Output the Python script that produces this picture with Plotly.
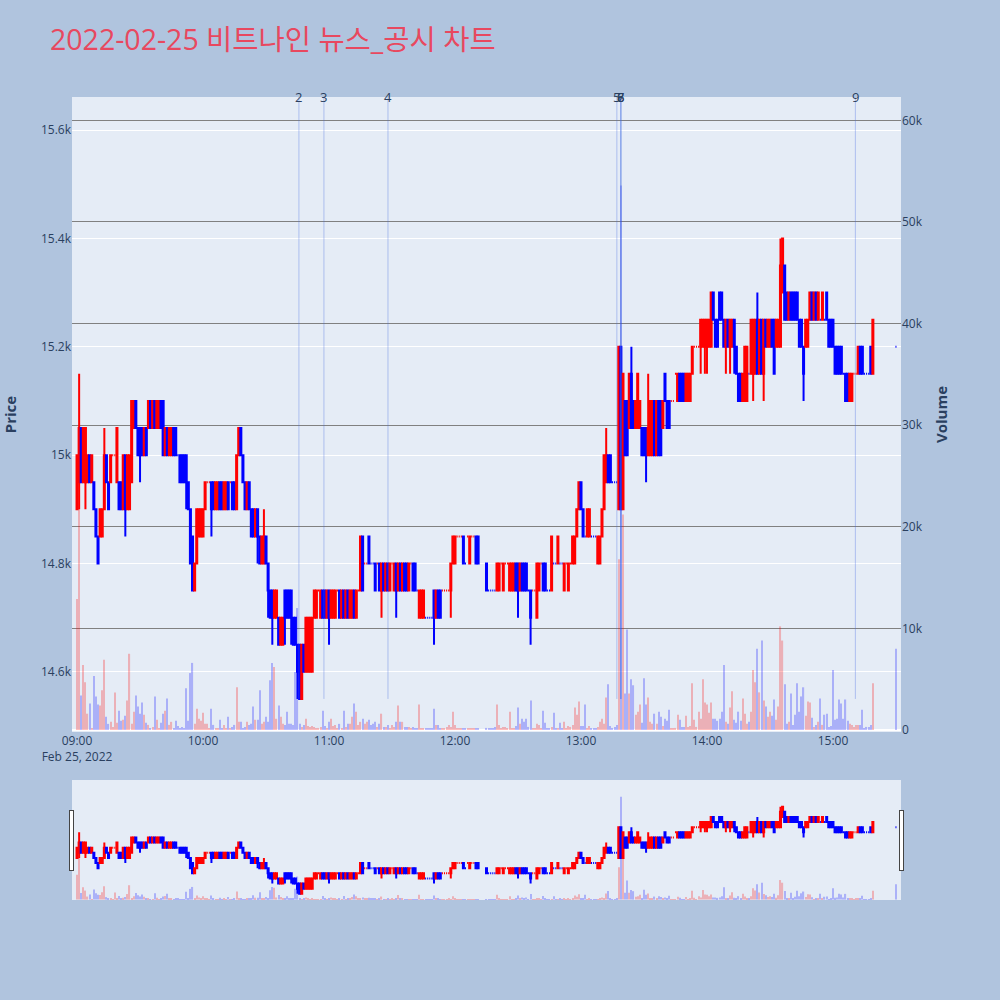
import pandas as pd
import plotly.graph_objects as go
from plotly.subplots import make_subplots

# 1-minute bars for 2022-02-25, 09:00 .. 15:30 (None = no trade in that minute)
opens = [
    14900, 14950, 15050, 14950, 14950, 14950, 15000, 14950, 14950, 14900,
    14850, 14850, 14850, 14900, 15000, 14950, 14950, 15000, 15000, 14950,
    14950, 14950, 14900, 15000, 14900, 14900, 14950, 15050, 15100, 15050,
    15050, 15050, 15000, 15050, 15050, 15100, 15050, 15100, 15050, 15050,
    15100, 15100, 15000, 15050, 15000, 15000, 15050, 15050, 15000, 15000,
    15000, 15000, 15000, 14950, 14900, 14850, 14750, 14800, 14850, 14850,
    14850, 14900, 14950, 14950, 14950, 14950, 14900, 14900, 14950, 14950,
    14900, 14900, 14950, 14950, 14950, 14950, 14900, 15000, 15050, 15000,
    14950, 14900, 14950, 14900, 14900, 14850, 14900, 14850, 14800, 14800,
    14850, 14800, 14750, 14750, 14700, 14700, 14700, 14650, 14650, 14750,
    14750, 14750, 14750, 14700, 14700, 14650, 14650, 14550, 14650, 14600,
    14600, 14600, 14600, 14700, 14700, 14750, 14700, 14750, 14750, 14700,
    14750, 14700, 14700, 14700, 14750, 14750, 14700, 14750, 14700, 14750,
    14700, 14700, 14750, 14700, 14750, 14750, 14850, 14800, 14800, 14850,
    14800, 14800, 14800, 14800, 14800, 14750, 14800, 14750, 14800, 14750,
    14800, 14750, 14800, 14750, 14800, 14750, 14800, 14800, 14750, 14800,
    14800, 14800, 14750, 14700, 14700, 14700, 14700, 14700, 14700, 14700,
    14750, 14700, 14750, 14750, 14750, 14750, 14750, 14750, 14750, 14800,
    14800, 14850, 14850, 14850, 14850, 14800, 14850, 14800, 14850, 14850,
    14850, 14850, None, None, None, 14800, 14750, 14750, 14750, 14750,
    14750, 14750, 14800, 14750, 14800, 14800, 14750, 14750, 14750, 14800,
    14800, 14750, 14800, 14800, 14800, 14750, 14750, 14750, 14750, 14700,
    14750, 14800, 14800, 14800, 14750, 14750, 14750, 14800, 14800, 14800,
    14800, 14800, 14750, 14800, 14750, 14800, 14800, 14800, 14850, 14900,
    14950, 14900, 14850, 14850, 14850, 14850, 14850, 14850, 14800, 14800,
    14850, 14900, 14950, 15000, 15000, 14950, 14950, 14950, 14900, 15200,
    14900, 15100, 15100, 15050, 15150, 15100, 15050, 15050, 15050, 15050,
    15050, 15050, 15000, 15000, 15000, 15100, 15000, 15100, 15100, 15050,
    15150, 15100, 15100, 15100, 15100, 15150, 15100, 15150, 15150, 15150,
    15100, 15100, 15100, 15150, 15200, 15200, 15200, 15200, 15200, 15200,
    15200, 15200, 15200, 15300, 15250, 15250, 15300, 15300, 15250, 15200,
    15250, 15200, 15200, 15250, 15200, 15150, 15150, 15100, 15100, 15100,
    15150, 15150, 15150, 15150, 15250, 15150, 15250, 15150, 15250, 15200,
    15200, 15250, 15250, 15200, 15200, 15200, 15300, 15350, 15300, 15250,
    15300, 15300, 15300, 15300, 15250, 15250, 15200, 15200, 15200, 15250,
    15300, 15250, 15300, 15250, 15250, 15250, 15250, 15300, 15250, 15250,
    15250, 15200, 15200, 15200, 15200, 15150, 15150, 15150, 15100, 15100,
    15150, 15150, 15150, 15200, 15200, 15150, 15150, 15150, 15200, 15150,
    None, None, None, None, None, None, None, None, None, None,
    15200,
]
highs = [
    15000, 15150, 15050, 15050, 15050, 15000, 15000, 15000, 14950, 14900,
    14850, 14900, 14900, 15050, 15000, 14950, 15000, 15000, 15000, 15050,
    14950, 14950, 15000, 15000, 15000, 15000, 15100, 15100, 15100, 15050,
    15050, 15050, 15050, 15050, 15100, 15100, 15100, 15100, 15100, 15100,
    15100, 15100, 15050, 15050, 15050, 15050, 15050, 15050, 15000, 15000,
    15000, 15000, 15000, 14950, 14900, 14850, 14800, 14900, 14900, 14900,
    14900, 14950, 14950, 14950, 14950, 14950, 14950, 14950, 14950, 14950,
    14950, 14950, 14950, 14950, 14950, 14950, 15000, 15050, 15050, 15000,
    14950, 14950, 14950, 14900, 14900, 14900, 14900, 14850, 14850, 14900,
    14850, 14800, 14750, 14750, 14750, 14750, 14700, 14700, 14700, 14750,
    14750, 14750, 14750, 14700, 14700, 14650, 14650, 14650, 14650, 14700,
    14700, 14700, 14700, 14750, 14750, 14750, 14750, 14750, 14750, 14750,
    14750, 14750, 14750, 14750, 14750, 14750, 14750, 14750, 14750, 14750,
    14750, 14750, 14750, 14750, 14750, 14850, 14850, 14800, 14800, 14850,
    14800, 14800, 14800, 14800, 14800, 14800, 14800, 14800, 14800, 14800,
    14800, 14800, 14800, 14800, 14800, 14800, 14800, 14800, 14800, 14800,
    14800, 14800, 14750, 14750, 14750, 14750, 14700, 14700, 14700, 14700,
    14750, 14750, 14750, 14750, 14750, 14750, 14750, 14750, 14800, 14850,
    14850, 14850, 14850, 14850, 14850, 14800, 14850, 14850, 14850, 14850,
    14850, 14850, None, None, None, 14800, 14750, 14750, 14750, 14750,
    14800, 14800, 14800, 14800, 14800, 14800, 14800, 14800, 14800, 14800,
    14800, 14800, 14800, 14800, 14800, 14750, 14750, 14750, 14750, 14800,
    14800, 14800, 14800, 14800, 14750, 14750, 14850, 14800, 14800, 14850,
    14800, 14800, 14800, 14800, 14800, 14800, 14850, 14850, 14900, 14950,
    14950, 14900, 14850, 14900, 14900, 14850, 14850, 14850, 14850, 14850,
    14900, 15000, 15050, 15000, 15000, 14950, 14950, 14950, 15200, 15200,
    15150, 15100, 15100, 15150, 15200, 15100, 15100, 15150, 15100, 15050,
    15050, 15050, 15150, 15100, 15100, 15100, 15100, 15100, 15100, 15100,
    15150, 15100, 15100, 15100, 15100, 15150, 15150, 15150, 15150, 15150,
    15150, 15150, 15150, 15200, 15200, 15200, 15200, 15250, 15250, 15250,
    15250, 15250, 15300, 15300, 15250, 15250, 15300, 15300, 15250, 15250,
    15250, 15250, 15250, 15250, 15200, 15150, 15150, 15150, 15200, 15200,
    15150, 15250, 15250, 15250, 15300, 15250, 15250, 15250, 15250, 15250,
    15250, 15250, 15250, 15250, 15250, 15400, 15400, 15350, 15300, 15300,
    15300, 15300, 15300, 15300, 15250, 15250, 15200, 15250, 15250, 15300,
    15300, 15300, 15300, 15300, 15250, 15300, 15250, 15300, 15250, 15250,
    15250, 15200, 15200, 15200, 15200, 15150, 15150, 15150, 15150, 15150,
    15150, 15150, 15200, 15200, 15200, 15150, 15150, 15150, 15200, 15250,
    None, None, None, None, None, None, None, None, None, None,
    15200,
]
lows = [
    14900, 14900, 14950, 14950, 14900, 14950, 14950, 14950, 14900, 14850,
    14800, 14850, 14850, 14900, 14950, 14900, 14950, 15000, 15000, 14950,
    14900, 14900, 14900, 14850, 14900, 14900, 14950, 15050, 15050, 15000,
    14950, 15000, 15000, 15000, 15050, 15050, 15050, 15050, 15050, 15050,
    15050, 15000, 15000, 15000, 15000, 15000, 15000, 15000, 15000, 14950,
    14950, 14950, 14900, 14900, 14800, 14750, 14750, 14800, 14850, 14850,
    14850, 14900, 14950, 14950, 14850, 14900, 14900, 14900, 14900, 14900,
    14900, 14900, 14900, 14950, 14900, 14900, 14900, 15000, 15000, 14950,
    14900, 14900, 14900, 14850, 14850, 14850, 14800, 14800, 14800, 14800,
    14800, 14700, 14700, 14650, 14700, 14700, 14650, 14650, 14650, 14650,
    14700, 14700, 14650, 14650, 14650, 14550, 14550, 14550, 14600, 14600,
    14600, 14600, 14600, 14700, 14700, 14750, 14700, 14700, 14700, 14700,
    14650, 14700, 14700, 14700, 14750, 14700, 14700, 14700, 14700, 14700,
    14700, 14700, 14700, 14700, 14750, 14750, 14750, 14800, 14800, 14800,
    14800, 14800, 14750, 14800, 14750, 14700, 14750, 14750, 14750, 14750,
    14800, 14750, 14700, 14750, 14750, 14750, 14750, 14750, 14750, 14800,
    14750, 14750, 14750, 14700, 14700, 14700, 14700, 14700, 14700, 14700,
    14650, 14700, 14700, 14700, 14750, 14750, 14750, 14750, 14700, 14800,
    14800, 14850, 14850, 14850, 14800, 14800, 14850, 14800, 14850, 14850,
    14800, 14800, None, None, None, 14750, 14750, 14750, 14750, 14750,
    14750, 14750, 14800, 14750, 14800, 14800, 14750, 14750, 14750, 14750,
    14700, 14750, 14750, 14750, 14750, 14750, 14650, 14750, 14750, 14700,
    14750, 14800, 14750, 14750, 14750, 14750, 14750, 14800, 14800, 14800,
    14800, 14800, 14750, 14800, 14750, 14800, 14800, 14800, 14850, 14900,
    14900, 14850, 14850, 14850, 14850, 14850, 14850, 14850, 14800, 14800,
    14850, 14900, 14950, 14950, 14950, 14950, 14950, 14950, 14900, 14900,
    14900, 15000, 15000, 15050, 15050, 15050, 15050, 15050, 15050, 15000,
    15000, 14950, 15000, 15000, 15000, 15000, 15000, 15000, 15000, 15050,
    15100, 15050, 15050, 15100, 15100, 15150, 15100, 15100, 15100, 15100,
    15100, 15100, 15100, 15150, 15200, 15200, 15200, 15150, 15200, 15150,
    15150, 15200, 15200, 15250, 15200, 15200, 15250, 15250, 15200, 15150,
    15200, 15150, 15200, 15150, 15150, 15100, 15100, 15100, 15100, 15100,
    15150, 15150, 15100, 15150, 15150, 15150, 15150, 15100, 15200, 15200,
    15200, 15200, 15150, 15200, 15200, 15200, 15300, 15250, 15250, 15250,
    15250, 15250, 15250, 15250, 15200, 15200, 15100, 15200, 15200, 15250,
    15250, 15250, 15250, 15250, 15250, 15250, 15250, 15250, 15200, 15200,
    15200, 15150, 15150, 15150, 15150, 15150, 15100, 15100, 15100, 15100,
    15150, 15150, 15150, 15150, 15150, 15150, 15150, 15150, 15150, 15150,
    None, None, None, None, None, None, None, None, None, None,
    15200,
]
closes = [
    15000, 15050, 14950, 15050, 15050, 15000, 14950, 15000, 14900, 14850,
    14800, 14900, 14900, 15000, 14950, 14900, 15000, 15000, 15000, 15050,
    14900, 14900, 15000, 14900, 15000, 15000, 15100, 15100, 15050, 15000,
    15000, 15000, 15050, 15000, 15100, 15050, 15100, 15050, 15100, 15100,
    15050, 15000, 15050, 15000, 15050, 15050, 15000, 15000, 15000, 14950,
    14950, 14950, 14950, 14900, 14800, 14750, 14800, 14900, 14900, 14900,
    14900, 14950, 14950, 14950, 14900, 14900, 14950, 14950, 14900, 14900,
    14950, 14950, 14900, 14950, 14900, 14900, 15000, 15050, 15000, 14950,
    14900, 14950, 14900, 14850, 14850, 14900, 14850, 14800, 14850, 14850,
    14800, 14750, 14700, 14700, 14750, 14750, 14650, 14700, 14700, 14700,
    14700, 14700, 14700, 14650, 14650, 14600, 14550, 14650, 14600, 14700,
    14700, 14700, 14700, 14750, 14750, 14750, 14750, 14700, 14700, 14750,
    14700, 14750, 14750, 14750, 14750, 14700, 14750, 14700, 14750, 14700,
    14750, 14750, 14700, 14750, 14750, 14850, 14750, 14800, 14800, 14800,
    14800, 14800, 14750, 14800, 14750, 14800, 14750, 14800, 14750, 14800,
    14800, 14800, 14750, 14800, 14750, 14800, 14750, 14750, 14800, 14800,
    14750, 14750, 14750, 14750, 14750, 14750, 14700, 14700, 14700, 14700,
    14700, 14750, 14700, 14700, 14750, 14750, 14750, 14750, 14800, 14850,
    14850, 14850, 14850, 14850, 14800, 14800, 14850, 14850, 14850, 14850,
    14800, 14800, None, None, None, 14750, 14750, 14750, 14750, 14750,
    14800, 14800, 14800, 14800, 14800, 14800, 14800, 14800, 14800, 14750,
    14750, 14800, 14750, 14750, 14750, 14750, 14700, 14750, 14750, 14800,
    14800, 14800, 14750, 14750, 14750, 14750, 14850, 14800, 14800, 14850,
    14800, 14800, 14800, 14800, 14800, 14800, 14850, 14850, 14900, 14950,
    14900, 14850, 14850, 14900, 14900, 14850, 14850, 14850, 14850, 14850,
    14900, 15000, 15000, 14950, 14950, 14950, 14950, 14950, 15200, 14900,
    15150, 15000, 15000, 15150, 15050, 15050, 15100, 15150, 15100, 15000,
    15000, 15000, 15050, 15100, 15100, 15000, 15100, 15000, 15000, 15100,
    15100, 15050, 15050, 15100, 15100, 15150, 15150, 15100, 15100, 15100,
    15150, 15150, 15150, 15200, 15200, 15200, 15200, 15250, 15250, 15250,
    15250, 15250, 15300, 15250, 15200, 15200, 15250, 15250, 15200, 15250,
    15200, 15250, 15250, 15200, 15150, 15100, 15100, 15150, 15200, 15200,
    15150, 15250, 15250, 15250, 15150, 15250, 15150, 15250, 15200, 15250,
    15250, 15200, 15150, 15250, 15250, 15350, 15400, 15250, 15250, 15300,
    15250, 15250, 15250, 15250, 15200, 15200, 15150, 15250, 15250, 15300,
    15250, 15300, 15250, 15300, 15250, 15300, 15250, 15250, 15200, 15200,
    15200, 15150, 15150, 15150, 15150, 15150, 15100, 15100, 15150, 15150,
    15150, 15150, 15200, 15150, 15150, 15150, 15150, 15150, 15150, 15250,
    None, None, None, None, None, None, None, None, None, None,
    15200,
]
volumes = [
    12900, 21800, 3400, 6400, 4700, 1600, 2600, 100, 5300, 3300,
    2500, 2400, 3900, 6900, 1300, 600, 800, 300, 3700, 700,
    1900, 900, 1000, 1400, 2900, 7500, 600, 1800, 3400, 2300,
    1600, 2700, 1500, 700, 500, 100, 300, 3300, 1000, 100,
    700, 1600, 1900, 3100, 500, 800, 200, 900, 400, 100,
    300, 100, 4100, 900, 5600, 6600, 600, 2100, 1100, 900,
    1700, 600, 600, 200, 2100, 500, 100, 100, 1000, 100,
    500, 200, 1300, 100, 300, 500, 4200, 800, 800, 200,
    300, 800, 500, 600, 2300, 1000, 1000, 3900, 600, 800,
    1300, 800, 4900, 6600, 6200, 1100, 2400, 1300, 600, 500,
    1800, 600, 600, 500, 5700, 12000, 600, 300, 500, 1100,
    400, 300, 400, 300, 200, 200, 300, 1900, 400, 200,
    800, 1100, 400, 500, 200, 600, 200, 1900, 300, 600,
    600, 1300, 2600, 1800, 500, 800, 1100, 600, 800, 1000,
    500, 600, 800, 300, 600, 1600, 300, 300, 500, 200,
    500, 300, 800, 2400, 800, 800, 300, 300, 300, 100,
    300, 200, 100, 2500, 200, 100, 100, 100, 200, 100,
    2100, 500, 500, 100, 100, 100, 300, 500, 300, 1800,
    500, 100, 100, 100, 200, 100, 200, 100, 200, 100,
    100, 100, None, None, None, 200, 200, 100, 100, 300,
    2500, 500, 100, 300, 300, 100, 1800, 100, 100, 400,
    2200, 600, 1100, 800, 1100, 300, 2900, 200, 100, 600,
    500, 200, 1900, 700, 200, 100, 300, 1700, 200, 100,
    700, 200, 800, 200, 400, 300, 500, 2200, 1500, 2800,
    400, 400, 2500, 100, 400, 100, 100, 200, 300, 800,
    1100, 600, 3200, 4500, 400, 200, 300, 500, 16800, 53600,
    21200, 3600, 9900, 3600, 5000, 4400, 1500, 1800, 2500, 700,
    5100, 2500, 3200, 800, 600, 1600, 600, 1800, 1300, 400,
    1100, 900, 2000, 200, 100, 200, 1500, 1000, 300, 300,
    1400, 300, 400, 4600, 1000, 300, 1800, 1100, 5000, 2700,
    2500, 1700, 2700, 1100, 1100, 900, 1100, 1800, 6400, 800,
    600, 2200, 3800, 1000, 700, 1800, 900, 3100, 1600, 600,
    800, 1800, 5900, 4700, 8000, 3700, 8800, 2900, 2300, 1300,
    1800, 1400, 3000, 1000, 2300, 10200, 8800, 4500, 600, 800,
    3600, 500, 1500, 4600, 1800, 3300, 4200, 1400, 2800, 2700,
    1200, 300, 500, 800, 3100, 500, 1500, 1600, 300, 400,
    5900, 1000, 1100, 3000, 2600, 1100, 3000, 900, 600, 500,
    300, 500, 500, 500, 2000, 100, 300, 300, 500, 4600,
    None, None, None, None, None, None, None, None, None, None,
    8000,
]

# news / disclosure markers
news_labels = ["2", "3", "4", "5", "6", "7", "8", "9"]
news_times = [
    "2022-02-25 10:45:40", "2022-02-25 10:57:35", "2022-02-25 11:28:05",
    "2022-02-25 13:17:05", "2022-02-25 13:19:00", "2022-02-25 13:19:00",
    "2022-02-25 13:19:00", "2022-02-25 15:10:40",
]

minutes = pd.date_range("2022-02-25 09:00", periods=len(opens), freq="min")
df = pd.DataFrame({"t": minutes, "o": opens, "h": highs, "l": lows,
                   "c": closes, "v": volumes}).dropna()

# volume colour follows the candle direction (ties use the previous close)
vol_colors = []
prev_c, prev_up = None, True
for o, c in zip(df["o"], df["c"]):
    if c > o:
        up = True
    elif c < o:
        up = False
    elif prev_c is not None and c != prev_c:
        up = c > prev_c
    else:
        up = prev_up
    vol_colors.append("red" if up else "blue")
    prev_c, prev_up = c, up

price_range = [14489, 15661]

fig = make_subplots(specs=[[{"secondary_y": True}]])
fig.add_trace(go.Candlestick(
    x=df["t"], open=df["o"], high=df["h"], low=df["l"], close=df["c"],
    increasing=dict(line=dict(color="red"), fillcolor="red"),
    decreasing=dict(line=dict(color="blue"), fillcolor="blue"),
    showlegend=False, name="Price"), secondary_y=False)
fig.add_trace(go.Bar(
    x=df["t"], y=df["v"], marker=dict(color=vol_colors, line=dict(width=0)),
    opacity=0.25, showlegend=False, name="Volume"), secondary_y=True)

for label, t in zip(news_labels, news_times):
    fig.add_shape(type="line", xref="x", yref="y", x0=t, x1=t,
                  y0=df["l"].min(), y1=price_range[1],
                  line=dict(color="rgba(65,105,225,0.35)", width=1))
    fig.add_annotation(x=t, y=1, xref="x", yref="paper", text=label,
                       showarrow=False, yanchor="middle",
                       font=dict(size=13, color="#2a3f5f"))

fig.update_layout(
    width=1000, height=1000,
    template="plotly",
    paper_bgcolor="#B0C4DE",
    plot_bgcolor="#E5ECF6",
    margin=dict(l=72, r=99, t=97, b=100),
    title=dict(text="2022-02-25 비트나인 뉴스_공시 차트", x=0.05, xanchor="left",
               y=0.96, yanchor="middle",
               font=dict(size=28.5, color="#E8485F",
                         family="Open Sans, Noto Sans CJK KR")),
    font=dict(family="Open Sans, Noto Sans CJK KR"),
    bargap=0.45,
)
fig.update_xaxes(
    domain=[0, 1], showgrid=False,
    range=["2022-02-25 08:57:36", "2022-02-25 15:32:24"],
    rangeslider=dict(visible=True, thickness=0.15, bgcolor="#E5ECF6"),
)
fig.update_yaxes(title=dict(text="Price", font=dict(size=15, weight="bold"),
                            standoff=20),
                 automargin=False,
                 range=price_range, showgrid=True, gridcolor="white",
                 secondary_y=False)
fig.update_yaxes(title=dict(text="Volume", font=dict(size=15, weight="bold"),
                            standoff=14),
                 automargin=False,
                 range=[-200, 62300], showgrid=True, gridcolor="gray",
                 gridwidth=1, secondary_y=True)

fig.write_html("out.html")
